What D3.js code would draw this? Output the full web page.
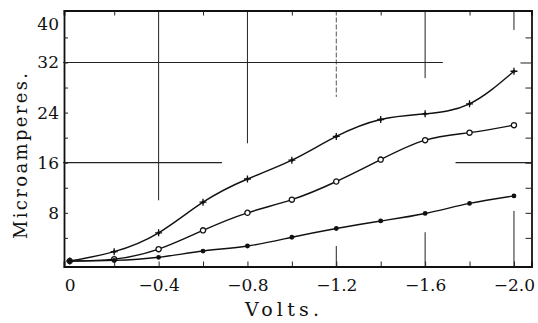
<!DOCTYPE html>
<html>
<head>
<meta charset="utf-8">
<script src="https://cdn.jsdelivr.net/npm/d3@7"></script>
<style>
  body { margin: 0; background: #fff; }
  text { font-family: "DejaVu Serif", "Liberation Serif", serif; fill: #111; }
</style>
</head>
<body>
<svg id="chart" width="538" height="323"></svg>
<script>
// readings off the plate
const volts = [0, -0.2, -0.4, -0.6, -0.8, -1.0, -1.2, -1.4, -1.6, -1.8, -2.0]
const upperCurve = [0.3, 1.8, 4.8, 9.7, 13.4, 16.4, 20.2, 22.9, 23.8, 25.4, 30.6]
const middleCurve = [0.3, 0.6, 2.2, 5.2, 8.0, 10.1, 13.0, 16.5, 19.6, 20.8, 22.0]
const lowerCurve = [0.3, 0.4, 0.9, 1.9, 2.7, 4.1, 5.5, 6.7, 7.9, 9.5, 10.7]

const xLabels = [0, -0.4, -0.8, -1.2, -1.6, -2.0]
const xMinor = [-0.2, -0.4, -0.6, -0.8, -1.0, -1.2, -1.4, -1.6, -1.8, -2.0]
const yLabels = [8, 16, 24, 32, 40]
const yMinor = [4, 8, 12, 16, 20, 24, 28, 32, 36]

// partial guide lines as printed
const vGuides = [
  { v: -0.4, a0: 40.3, a1: 10.0 },
  { v: -0.8, a0: 40.3, a1: 19.1 },
  { v: -1.2, a0: 40.3, a1: 26.5, dash: true },
  { v: -1.6, a0: 40.3, a1: 29.5 },
  { v: -2.0, a0: 40.3, a1: 37.2 },
  { v: -1.2, a0: -0.6, a1: 2.7 },
  { v: -1.6, a0: -0.6, a1: 4.9 },
  { v: -2.0, a0: -0.6, a1: 8.3 }
]
const hGuides = [
  { a: 32, v0: 0.03, v1: -1.68 },
  { a: 16, v0: 0.03, v1: -0.685 },
  { a: 16, v0: -1.737, v1: -2.08 }
]

const svg = d3.select("#chart")

const x = d3.scaleLinear().domain([0.026, -2.079]).range([64, 531.5])
const y = d3.scaleLinear().domain([-0.57, 40.3]).range([266.5, 10.5])

const fmt = d => d === 0 ? "0" : "\u2212" + Math.abs(d).toFixed(1)

// guide lines
svg.append("g").selectAll("line").data(vGuides).join("line")
  .attr("x1", d => x(d.v)).attr("x2", d => x(d.v))
  .attr("y1", d => y(d.a0)).attr("y2", d => y(d.a1))
  .attr("stroke", d => d.dash ? "#555" : "#222")
  .attr("stroke-width", 1)
  .attr("stroke-dasharray", d => d.dash ? "5,2" : null)

svg.append("g").selectAll("line").data(hGuides).join("line")
  .attr("x1", d => x(d.v0)).attr("x2", d => x(d.v1))
  .attr("y1", d => y(d.a)).attr("y2", d => y(d.a))
  .attr("stroke", "#222")
  .attr("stroke-width", 1.2)

// axes
svg.append("g")
  .attr("transform", `translate(0, ${y.range()[0]})`)
  .call(d3.axisBottom(x).tickValues(xMinor).tickSize(-5).tickFormat(""))
const bottomLabels = svg.append("g")
  .attr("transform", `translate(0, ${y.range()[0]})`)
  .call(d3.axisBottom(x).tickValues(xLabels).tickSize(0).tickPadding(12).tickFormat(fmt))
bottomLabels.select(".domain").remove()

svg.append("g")
  .attr("transform", `translate(0, ${y.range()[1]})`)
  .call(d3.axisTop(x).tickValues([-0.2, -0.6, -1.0, -1.4, -1.8]).tickSize(-5).tickFormat(""))

svg.append("g")
  .attr("transform", `translate(${x.range()[0]}, 0)`)
  .call(d3.axisLeft(y).tickValues(yMinor).tickSize(-4).tickFormat(""))
const leftLabels = svg.append("g")
  .attr("transform", `translate(${x.range()[0]}, 0)`)
  .call(d3.axisLeft(y).tickValues(yLabels).tickSize(0).tickPadding(5).tickFormat(d3.format("d")))
leftLabels.select(".domain").remove()
leftLabels.selectAll(".tick").filter(d => d === 40).select("text").attr("dy", "1.0em")

const rightAxis = svg.append("g")
  .attr("transform", `translate(${x.range()[1]}, 0)`)
  .call(d3.axisRight(y).tickValues(yMinor).tickSize(-6).tickFormat(""))
rightAxis.selectAll(".tick line").filter(d => d === 32).attr("x2", -11)

svg.selectAll(".domain").attr("stroke", "#111").attr("stroke-width", 1.8)
svg.selectAll(".tick line").attr("stroke", "#222").attr("stroke-width", 1)
svg.selectAll(".tick text").attr("font-size", 17).attr("fill", "#111")
  .style("font-family", '"DejaVu Serif", serif')

// curves
const line = d3.line()
  .x((d, i) => x(volts[i]))
  .y(d => y(d))
  .curve(d3.curveNatural)

const series = [
  { vals: upperCurve, mark: "plus" },
  { vals: middleCurve, mark: "ring" },
  { vals: lowerCurve, mark: "dot" }
]

series.forEach(s => {
  svg.append("path")
    .attr("d", line(s.vals))
    .attr("fill", "none")
    .attr("stroke", "#111")
    .attr("stroke-width", 1.4)

  const pts = svg.append("g").selectAll("g").data(s.vals).join("g")
    .attr("transform", (d, i) => `translate(${x(volts[i])}, ${y(d)})`)

  if (s.mark === "plus") {
    pts.append("path").attr("d", "M-3.5,0H3.5M0,-3.5V3.5")
      .attr("stroke", "#111").attr("stroke-width", 1.3)
    pts.append("circle").attr("r", 1.6).attr("fill", "#111")
  } else if (s.mark === "ring") {
    pts.append("circle").attr("r", 2.6)
      .attr("fill", "#fff").attr("stroke", "#111").attr("stroke-width", 1.3)
  } else {
    pts.append("circle").attr("r", 2.4).attr("fill", "#111")
  }
})

// axis titles
svg.append("text")
  .attr("x", 282).attr("y", 316)
  .attr("text-anchor", "middle")
  .attr("font-size", 19)
  .attr("textLength", 74).attr("lengthAdjust", "spacing")
  .text("Volts.")

svg.append("text")
  .attr("transform", "translate(27, 156) rotate(-90)")
  .attr("text-anchor", "middle")
  .attr("font-size", 18)
  .attr("textLength", 166).attr("lengthAdjust", "spacing")
  .text("Microamperes.")
</script>
</body>
</html>
